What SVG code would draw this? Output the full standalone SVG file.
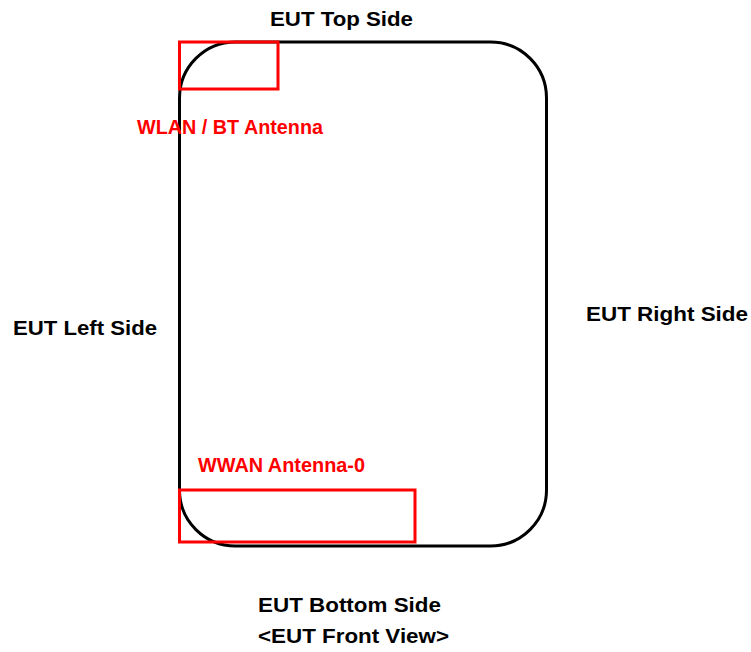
<svg xmlns="http://www.w3.org/2000/svg" width="751" height="652" viewBox="0 0 751 652">
<style>
.lbl{font-family:"Liberation Sans",Arial,sans-serif;font-weight:bold;font-size:21px;fill:#000}
.ant{font-family:"Liberation Sans",Arial,sans-serif;font-weight:bold;font-size:19.5px;fill:#ff0000}
.body{fill:none;stroke:#000;stroke-width:3}
.box{fill:none;stroke:#ff0000;stroke-width:3}
</style>
<rect width="751" height="652" fill="#fff"/>
<g id="eut">
<rect class="body" x="179.5" y="42" width="367" height="504" rx="56" ry="56"/>
</g>
<g id="wlan-antenna">
<rect class="box" x="179.5" y="42" width="98.5" height="47"/>
<text class="ant" x="137" y="134" textLength="186" lengthAdjust="spacingAndGlyphs">WLAN / BT Antenna</text>
</g>
<g id="wwan-antenna">
<rect class="box" x="179.5" y="490" width="235.5" height="52"/>
<text class="ant" x="198" y="472" textLength="167" lengthAdjust="spacingAndGlyphs">WWAN Antenna-0</text>
</g>
<g id="labels">
<text class="lbl" x="270" y="26" textLength="143" lengthAdjust="spacingAndGlyphs">EUT Top Side</text>
<text class="lbl" x="13" y="335" textLength="144" lengthAdjust="spacingAndGlyphs">EUT Left Side</text>
<text class="lbl" x="586" y="321" textLength="162" lengthAdjust="spacingAndGlyphs">EUT Right Side</text>
<text class="lbl" x="258" y="612" textLength="183" lengthAdjust="spacingAndGlyphs">EUT Bottom Side</text>
<text class="lbl" x="258" y="643" textLength="191" lengthAdjust="spacingAndGlyphs">&lt;EUT Front View&gt;</text>
</g>
</svg>
